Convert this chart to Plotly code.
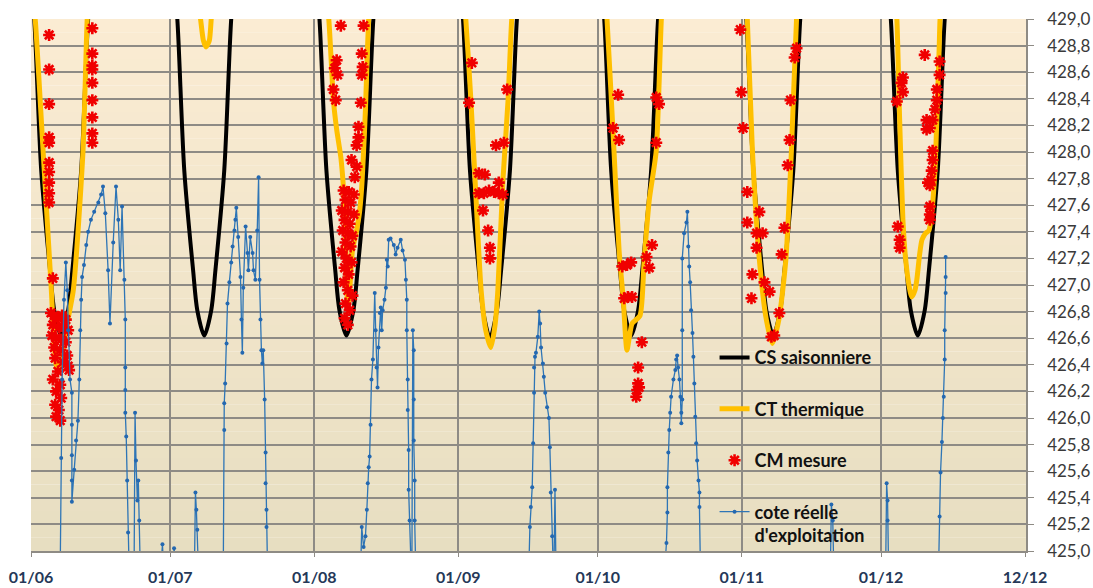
import plotly.graph_objects as go

# ---------------- data (x = days after 01/06, y = cote in m) ----------------
tick_days = [0, 30, 61, 92, 122, 153, 183, 214]
tick_labels = ["01/06", "01/07", "01/08", "01/09", "01/10", "01/11", "01/12", "12/12"]

# CS saisonniere (black) - seven V-shaped seasonal curves
cs_day = [-0.1, 0.7, 2.2, 4.1, 5.0, 6.5, 8.0, 8.9, 10.8, 12.3, 13.1, None,
          30.7, 31.5, 33.0, 34.9, 35.8, 37.3, 38.8, 39.7, 41.6, 43.1, 43.9, None,
          61.3, 62.1, 63.6, 65.5, 66.4, 67.9, 69.4, 70.3, 72.2, 73.7, 74.5, None,
          92.2, 93.0, 94.5, 96.4, 97.3, 98.8, 100.3, 101.2, 103.1, 104.6, 105.4, None,
          122.6, 123.4, 124.9, 126.8, 127.7, 129.2, 130.7, 131.6, 133.5, 135.0, 135.8, None,
          153.2, 154.0, 155.5, 157.4, 158.3, 159.8, 161.3, 162.2, 164.1, 165.6, 166.4, None,
          184.3, 185.1, 186.6, 188.5, 189.4, 190.9, 192.4, 193.3, 195.2, 196.7, 197.5]
cs_val = [429.3, 429.0, 427.86, 427.11, 426.81, 426.62, 426.81, 427.11, 427.86, 429.0, 429.3, None,
          429.3, 429.0, 427.86, 427.11, 426.81, 426.62, 426.81, 427.11, 427.86, 429.0, 429.3, None,
          429.3, 429.0, 427.86, 427.11, 426.81, 426.62, 426.81, 427.11, 427.86, 429.0, 429.3, None,
          429.3, 429.0, 427.86, 427.11, 426.81, 426.60, 426.81, 427.11, 427.86, 429.0, 429.3, None,
          429.3, 429.0, 427.86, 427.11, 426.81, 426.62, 426.81, 427.11, 427.86, 429.0, 429.3, None,
          429.3, 429.0, 427.86, 427.11, 426.81, 426.62, 426.81, 427.11, 427.86, 429.0, 429.3, None,
          429.3, 429.0, 427.86, 427.11, 426.81, 426.62, 426.81, 427.11, 427.86, 429.0, 429.3]

# CT thermique (yellow)
ct_day = [0.6, 0.9, 2.6, 4.3, 5.4, 6.0, 6.7, 7.5, 9.1, 11.2, 12.1, 12.3, None,
          36.2, 36.5, 37.1, 37.7, 38.4, 38.8, 39.0, None,
          63.8, 64.1, 64.7, 65.1, 65.8, 66.7, 67.3, 67.7, 67.9, 68.2, 68.6, 69.2, 70.1, 70.7, 71.2, 71.6, 72.0, 72.3, 72.7, 72.9, None,
          93.4, 93.6, 94.7, 95.6, 96.9, 97.9, 99.0, 99.9, 100.5, 101.6, 102.7, 103.5, 103.8, None,
          123.8, 124.0, 125.5, 126.6, 127.5, 128.3, 129.4, 131.1, 132.0, 133.1, 134.6, 135.7, 135.9, None,
          154.0, 154.2, 155.3, 156.8, 158.3, 159.6, 161.0, 162.5, 163.7, 164.8, 165.0, None,
          186.2, 186.4, 187.0, 187.7, 188.3, 189.2, 189.6, 190.3, 190.7, 191.3, 191.8, 192.6, 193.3, 193.9, 194.6, 195.0, 195.5, 195.7, 195.9]
ct_val = [429.07, 429.0, 428.01, 427.01, 426.40, 426.35, 426.47, 426.66, 426.96, 428.01, 429.0, 429.07, None,
          429.07, 429.0, 428.84, 428.79, 428.84, 429.0, 429.07, None,
          429.07, 429.0, 428.64, 428.39, 428.17, 427.96, 427.71, 427.41, 427.11, 426.85, 426.96, 427.26, 427.41, 427.54, 427.74, 428.01, 428.32, 428.64, 429.0, 429.07, None,
          429.07, 429.0, 428.39, 427.79, 426.96, 426.66, 426.53, 426.70, 426.96, 427.79, 428.39, 429.0, 429.07, None,
          429.07, 429.0, 428.01, 427.26, 426.89, 426.51, 426.71, 426.77, 427.19, 427.64, 428.01, 429.0, 429.07, None,
          429.07, 429.0, 428.01, 427.19, 426.74, 426.56, 426.74, 427.19, 428.01, 429.0, 429.07, None,
          429.07, 429.0, 428.24, 427.49, 427.19, 426.96, 426.91, 426.96, 427.04, 427.23, 427.34, 427.39, 427.41, 427.54, 427.86, 428.24, 428.77, 429.0, 429.07]

# CM mesure (red markers)
cm_day = [3.9, 3.9, 3.9, 3.9, 3.9, 3.9, 3.9, 3.9, 3.9, 3.9, 4.7,
          4.3, 5.0, 5.8, 6.7, 7.5, 4.7, 6.0, 7.1, 8.0, 4.5, 5.4, 6.5, 7.5, 5.0, 6.3, 5.2, 6.9, 8.0,
          5.8, 4.7, 6.3, 5.4, 6.5, 5.2, 6.0, 5.4, 6.3, 8.2, 7.8,
          13.2, 13.2, 13.2, 13.2, 13.2, 13.2, 13.2, 13.2, 13.2,
          66.7, 71.6, 65.8, 65.4, 66.0, 65.1, 65.6, 71.2, 71.4, 71.2, 71.0, 70.5, 70.5, 70.1, 69.0, 70.1, 69.7,
          67.3, 68.4, 69.5, 67.7, 68.8, 66.9, 68.2, 69.5, 67.5, 68.6, 67.1, 68.2, 69.2, 67.7, 68.8, 66.9, 67.9,
          69.0, 67.5, 68.4, 67.3, 68.2, 69.2, 67.7, 68.6, 67.5, 68.2,
          94.9, 94.3, 102.5, 100.1, 101.8, 96.4, 97.7, 100.7, 96.4, 97.5, 98.6, 99.7, 100.7, 101.6, 97.3, 98.4, 98.8, 98.8,
          126.4, 125.3, 126.6, 134.6, 135.2, 134.6, 127.3, 128.3, 129.2, 127.7, 128.5, 129.4, 132.5, 133.1, 133.7,
          131.5, 130.7, 130.7, 130.5, 130.3, 130.9,
          154.2, 154.2, 156.8, 156.2, 157.5, 156.2, 155.3, 155.1, 157.9, 159.0, 161.1, 160.0, 159.4, 162.9, 162.2, 161.6,
          152.7, 152.9, 153.3, 164.8, 164.4, 163.5, 163.3,
          192.4, 187.7, 187.4, 187.7, 186.4, 195.6, 195.6, 195.0, 195.0, 194.6, 194.1, 193.5, 192.8, 192.8,
          194.1, 194.1, 193.9, 193.7, 193.5, 193.1, 193.5, 193.5, 193.5, 186.6, 187.0, 187.0]
cm_val = [428.88, 428.62, 428.36, 428.11, 428.07, 427.92, 427.85, 427.77, 427.69, 427.62, 427.05,
          426.79, 426.77, 426.75, 426.77, 426.74, 426.70, 426.68, 426.68, 426.66, 426.62, 426.60, 426.59, 426.57, 426.53, 426.51, 426.45, 426.42, 426.39,
          426.35, 426.29, 426.25, 426.20, 426.15, 426.10, 426.06, 426.01, 425.98, 426.36, 426.47,
          428.93, 428.74, 428.65, 428.62, 428.52, 428.39, 428.26, 428.14, 428.07,
          428.95, 428.95, 428.69, 428.63, 428.58, 428.47, 428.39, 428.74, 428.64, 428.58, 428.37, 428.19, 428.11, 428.05, 427.94, 427.89, 427.81,
          427.71, 427.70, 427.68, 427.64, 427.62, 427.56, 427.55, 427.53, 427.49, 427.46, 427.41, 427.39, 427.37, 427.32, 427.29, 427.25, 427.20,
          427.17, 427.13, 427.08, 427.02, 426.96, 426.92, 426.86, 426.81, 426.75, 426.70,
          428.67, 428.37, 428.47, 428.05, 428.07, 427.84, 427.83, 427.77, 427.69, 427.69, 427.71, 427.70, 427.69, 427.68, 427.56, 427.41, 427.28, 427.20,
          428.43, 428.18, 428.09, 428.41, 428.36, 428.07, 427.14, 427.15, 427.17, 426.90, 426.91, 426.91, 427.21, 427.13, 427.30,
          426.57, 426.38, 426.26, 426.21, 426.16, 426.23,
          427.70, 427.47, 427.55, 427.39, 427.39, 427.28, 427.08, 426.90, 427.02, 426.95, 426.79, 426.62, 426.61, 427.90, 427.43, 427.23,
          428.92, 428.45, 428.18, 428.78, 428.71, 428.39, 428.09,
          428.73, 428.56, 428.52, 428.45, 428.38, 428.68, 428.58, 428.47, 428.39, 428.32, 428.24, 428.18, 428.24, 428.17,
          428.01, 427.94, 427.86, 427.79, 427.75, 427.77, 427.59, 427.53, 427.49, 427.44, 427.34, 427.28]

# cote reelle d'exploitation (blue); 424.9 = below the displayed range
real_day = [6.3, 6.5, 6.7, 7.1, 7.5, 7.8, 8.0, 8.4, 8.8, 8.8, 8.8, 8.8, 8.8, 9.3, 9.7, 10.1, 10.4, 10.6, 10.8, 11.0,
            11.4, 11.9, 12.3, 12.9, 13.6, 14.5, 15.1, 15.5, 16.0, 16.6, 17.0, 17.7, 18.3, 18.8, 19.2, 19.6, 20.1,
            20.3, 20.3, 20.3, 20.3, 20.5, 20.7, 20.9, 21.1,
            22.2, 22.4, 22.6, 22.9, 23.1, 23.3, 23.5,
            28.0, 28.3, 28.5, 30.6, 30.8, 31.1,
            35.2, 35.4, 35.6, 35.8, 36.0,
            41.4, 41.6, 41.6, 41.8, 42.1, 42.3, 42.7, 43.1, 43.4, 43.8, 44.0, 44.2, 44.6, 45.1, 45.3, 45.5, 45.7,
            46.2, 46.6, 46.8, 47.2, 47.7, 47.9, 48.3, 48.7, 49.0, 49.2, 49.4, 49.6, 49.8, 50.0, 50.3, 50.5, 50.5,
            50.7, 50.7, 50.9,
            71.0, 71.2, 71.6, 72.0, 72.3, 72.5, 72.7, 72.9, 73.1, 73.3, 73.6, 74.0, 74.2, 74.4, 74.6, 74.8, 75.1,
            75.3, 75.5, 75.7, 76.1, 76.4, 76.6, 76.8, 77.0, 77.4, 78.1, 78.5, 78.9, 79.6, 80.0, 80.5, 80.7, 80.9,
            80.9, 81.1, 81.1, 81.3, 81.3, 81.5, 81.8, 82.0, 82.2, 82.4, 82.4, 82.4, 82.6, 82.6, 82.8,
            107.2, 107.4, 107.6, 107.9, 108.1, 108.3, 108.3, 108.5, 108.7, 109.1, 109.4, 109.6, 109.8, 110.2, 110.4,
            110.7, 111.1, 111.5, 111.7, 111.9, 112.2, 112.4, 112.6, 112.8, 113.0,
            136.5, 136.8, 137.0, 137.0, 137.2, 137.4, 137.6, 137.8, 138.3, 138.7, 138.9, 139.1, 139.3, 139.6, 139.8,
            140.0, 140.0, 140.2, 140.2, 140.2, 140.6, 141.1, 141.3, 141.5, 141.7, 141.9, 142.1, 142.4, 142.6, 142.8,
            143.0, 143.2, 143.4, 143.7, 143.9, 143.9, 144.1,
            172.1, 172.3, 172.6, 172.8, 184.0, 184.2, 184.4, 184.4, 184.6,
            195.4, 195.6, 195.8, 196.1, 196.3, 196.5, 196.7, 196.7, 196.9, 196.9, 196.9]
real_val = [424.9, 425.70, 426.29, 426.89, 427.17, 426.96, 426.66, 426.29, 426.19, 425.95, 425.72, 425.53, 425.37,
            425.61, 425.83, 425.98, 426.29, 426.66, 426.89, 427.06,
            427.15, 427.30, 427.40, 427.49, 427.55, 427.62, 427.68, 427.74, 427.54, 427.11, 426.71, 427.32, 427.74,
            427.49, 427.11, 427.59, 427.04,
            426.74, 426.38, 426.21, 426.04, 425.86, 425.53, 425.14, 424.9,
            424.9, 426.04, 425.68, 425.38, 425.53, 425.23, 424.9,
            424.9, 425.05, 424.9, 424.9, 425.02, 424.9,
            424.9, 425.44, 425.31, 425.16, 424.9,
            424.9, 425.91, 426.11, 426.26, 426.56, 426.86, 427.02, 427.17, 427.29, 427.41, 427.49, 427.58, 427.36,
            427.06, 426.74, 426.49, 426.98,
            427.44, 427.24, 427.11, 427.36, 427.24, 427.11, 427.04, 427.41, 427.81, 427.04, 426.74, 426.51, 426.41,
            426.51, 426.14, 425.74, 425.51,
            425.31, 425.18, 424.9,
            424.9, 425.18, 425.03, 425.11, 425.31, 425.51, 425.63, 425.71, 425.95, 426.29, 426.44, 426.94, 426.66,
            426.38, 426.23, 426.53, 426.79,
            426.83, 426.66, 426.81, 426.89, 426.98, 427.19, 427.14, 427.34, 427.35, 427.30, 427.23, 427.28, 427.34,
            427.26, 427.19, 427.04, 426.89,
            426.66, 426.29, 426.06, 425.76, 425.46, 425.23, 424.9, 424.9, 426.66, 426.51, 426.14, 425.83, 425.53,
            425.23, 424.9,
            424.9, 425.18, 425.33, 425.48, 425.81, 426.19, 426.38, 426.46, 426.49, 426.61, 426.80, 426.71, 426.53,
            426.41, 426.31,
            426.19, 426.08, 426.00, 425.78, 425.44, 425.11, 424.9, 424.9, 425.46, 424.9,
            424.9, 425.06, 425.29, 425.48, 425.74, 425.91, 426.04, 426.16, 426.29, 426.36, 426.44, 426.47, 426.38,
            426.29, 426.16,
            426.04, 425.96, 426.14, 426.66, 427.20, 427.39, 427.47, 427.55, 427.29, 427.14, 427.02, 426.81, 426.64,
            426.46, 426.26,
            426.01, 425.81, 425.68, 425.53, 425.44, 425.33, 424.9,
            424.9, 425.35, 425.23, 424.9, 424.9, 425.51, 425.38, 425.23, 424.9,
            424.9, 425.26, 425.59, 425.82, 426.00, 426.16, 426.44, 426.66, 426.94, 427.06, 427.21]

y_ticks = [425.0, 425.2, 425.4, 425.6, 425.8, 426.0, 426.2, 426.4, 426.6, 426.8,
           427.0, 427.2, 427.4, 427.6, 427.8, 428.0, 428.2, 428.4, 428.6, 428.8, 429.0]

# ---------------- figure ----------------
fig = go.Figure()
fig.add_trace(go.Scatter(x=cs_day, y=cs_val, mode="lines", name="CS saisonniere",
                         line=dict(color="#000000", width=4, shape="spline", smoothing=0.8),
                         connectgaps=False, legendgroup="a"))
fig.add_trace(go.Scatter(x=ct_day, y=ct_val, mode="lines", name="CT thermique",
                         line=dict(color="#FFC000", width=5, shape="spline", smoothing=0.6),
                         connectgaps=False, legendgroup="b"))
fig.add_trace(go.Scatter(x=cm_day, y=cm_val, mode="markers", name="CM mesure",
                         marker=dict(symbol="asterisk", size=10, color="#FF0000",
                                     line=dict(color="#F00000", width=2.6)),
                         legendgroup="c"))
fig.add_trace(go.Scatter(x=real_day, y=real_val, mode="lines+markers", name="cote réelle<br>d'exploitation",
                         line=dict(color="#2E75B6", width=1.3),
                         marker=dict(symbol="circle", size=4, color="#2468B0"),
                         legendgroup="d"))

# background gradient (peach at top, tan at bottom)
n_bands = 40
top_rgb = (251, 236, 211)
bot_rgb = (231, 222, 193)
shapes = []
for i in range(n_bands):
    f = (i + 0.5) / n_bands
    c = tuple(round(bot_rgb[k] + (top_rgb[k] - bot_rgb[k]) * f) for k in range(3))
    shapes.append(dict(type="rect", xref="paper", yref="paper", x0=0, x1=1,
                       y0=i / n_bands, y1=(i + 1) / n_bands, layer="below",
                       fillcolor="rgb(%d,%d,%d)" % c, line=dict(width=0)))

grid_col = "#8E8B85"
fig.update_layout(
    width=1093, height=588,
    margin=dict(l=31, r=67, t=19, b=37, autoexpand=False),
    paper_bgcolor="white", plot_bgcolor="rgba(0,0,0,0)",
    separators=", ",
    shapes=shapes,
    showlegend=True,
    legend=dict(x=0.687, y=0.398, xanchor="left", yanchor="top",
                bgcolor="rgba(0,0,0,0)", borderwidth=0, tracegroupgap=25, valign="top",
                font=dict(family="Lato", size=18, color="#111111", weight="bold")),
    font=dict(family="Lato"),
)
fig.update_xaxes(range=[0, 214.2], tickvals=tick_days, ticktext=tick_labels, automargin=False,
                 showgrid=True, gridcolor=grid_col, gridwidth=1.5,
                 showline=True, linecolor=grid_col, linewidth=1.5,
                 ticks="outside", ticklen=4, tickcolor=grid_col, ticklabelstandoff=7,
                 tickfont=dict(family="Lato", size=16, color="#253858", weight="bold"),
                 zeroline=False)
fig.update_yaxes(range=[425, 429], side="right", tickvals=y_ticks, tickformat=".1f", automargin=False,
                 showgrid=True, gridcolor=grid_col, gridwidth=1.5,
                 showline=True, linecolor=grid_col, linewidth=1.5,
                 ticks="outside", ticklen=6, tickcolor=grid_col, ticklabelstandoff=10,
                 tickfont=dict(family="Lato", size=17, color="#3A3A3A"),
                 zeroline=False)

fig.write_html("out.html", config={"responsive": False, "displayModeBar": False},
               post_script="document.body.style.margin='0';document.body.style.overflow='hidden';")
